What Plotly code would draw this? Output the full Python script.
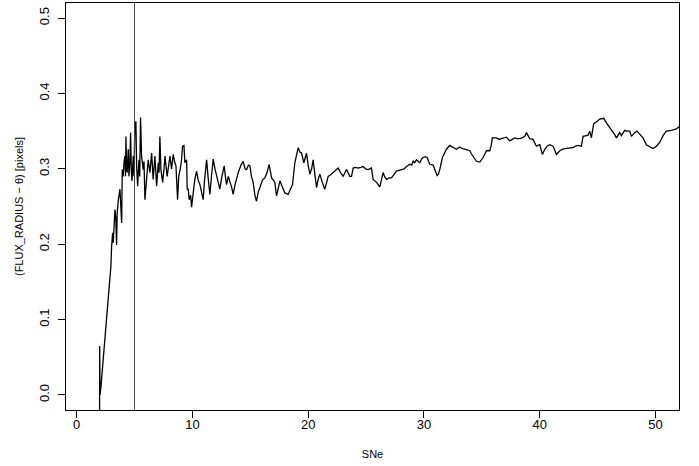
import plotly.graph_objects as go

# SNe (x) and FLUX_RADIUS - theta (y)
sne = [1.98, 1.99, 2.02, 2.1, 2.2, 2.3, 2.4, 2.5, 2.6, 2.73, 2.85, 2.96, 3.02, 3.11, 3.16, 3.31, 3.38, 3.45,
       3.5, 3.6, 3.74, 3.8, 3.89, 3.94, 4.02, 4.1, 4.17, 4.22, 4.26, 4.32, 4.37, 4.46, 4.52, 4.6, 4.66, 4.72,
       4.78, 4.89, 4.95, 5.03, 5.12, 5.18, 5.27, 5.38, 5.45, 5.52, 5.61, 5.75, 5.82, 5.9, 6.04, 6.1, 6.18,
       6.33, 6.4, 6.48, 6.61, 6.76, 6.91, 7.05, 7.12, 7.19, 7.28, 7.43, 7.55, 7.63, 7.82, 7.95, 8.06, 8.2,
       8.34, 8.45, 8.58, 8.72, 8.82, 8.94, 9.05, 9.15, 9.27, 9.35, 9.5, 9.55, 9.64, 9.72, 9.85, 9.93, 10.05,
       10.2, 10.36, 10.5, 10.65, 10.8, 10.93, 11.05, 11.23, 11.35, 11.51, 11.65, 11.8, 11.95, 12.09, 12.25,
       12.37, 12.55, 12.75, 12.85, 12.95, 13.1, 13.24, 13.4, 13.52, 13.7, 13.96, 14.2, 14.39, 14.55, 14.68,
       14.85, 14.97, 15.1, 15.25, 15.4, 15.54, 15.7, 15.83, 16.05, 16.26, 16.45, 16.63, 16.84, 17.0, 17.12,
       17.27, 17.4, 17.56, 17.8, 17.99, 18.27, 18.45, 18.65, 18.85, 19.0, 19.14, 19.3, 19.43, 19.63, 19.86,
       20.0, 20.15, 20.3, 20.43, 20.6, 20.73, 20.85, 21.01, 21.2, 21.44, 21.6, 21.73, 21.95, 22.16, 22.4,
       22.59, 22.8, 23.02, 23.32, 23.6, 23.75, 23.89, 24.1, 24.32, 24.55, 24.75, 24.95, 25.18, 25.47, 25.61,
       25.91, 26.05, 26.19, 26.48, 26.6, 26.77, 27.0, 27.2, 27.4, 27.63, 27.85, 28.07, 28.3, 28.5, 28.78,
       28.95, 29.07, 29.2, 29.36, 29.5, 29.65, 29.8, 29.93, 30.1, 30.28, 30.4, 30.51, 30.8, 31.03, 31.14,
       31.25, 31.37, 31.6, 31.8, 31.95, 32.24, 32.52, 32.81, 33.1, 33.3, 33.53, 33.75, 33.96, 34.1, 34.25,
       34.54, 34.83, 35.11, 35.41, 35.69, 35.8, 35.92, 36.27, 36.5, 36.7, 36.9, 37.13, 37.42, 37.6, 37.85,
       38.05, 38.28, 38.5, 38.71, 38.86, 39.14, 39.43, 39.6, 39.72, 40.01, 40.15, 40.24, 40.44, 40.65,
       40.87, 41.16, 41.3, 41.45, 41.74, 42.0, 42.31, 42.6, 42.88, 43.1, 43.32, 43.61, 43.75, 44.04, 44.2,
       44.33, 44.47, 44.67, 44.9, 45.19, 45.54, 45.77, 46.05, 46.34, 46.5, 46.63, 46.92, 47.06, 47.35,
       47.55, 47.78, 47.93, 48.21, 48.41, 48.64, 48.93, 49.22, 49.51, 49.79, 50.09, 50.37, 50.66, 50.95,
       51.38, 51.81, 51.99, 52.04]
flux_diff = [-0.06, 0.065, 0.0, 0.011, 0.03, 0.042, 0.07, 0.086, 0.11, 0.131, 0.155, 0.171, 0.197, 0.215,
             0.202, 0.246, 0.235, 0.199, 0.24, 0.259, 0.273, 0.25, 0.228, 0.299, 0.29, 0.31, 0.317, 0.29,
             0.343, 0.3, 0.295, 0.326, 0.29, 0.308, 0.348, 0.3, 0.284, 0.317, 0.29, 0.357, 0.363, 0.304,
             0.277, 0.312, 0.29, 0.368, 0.317, 0.299, 0.31, 0.259, 0.286, 0.3, 0.312, 0.295, 0.31, 0.321,
             0.286, 0.317, 0.277, 0.308, 0.295, 0.343, 0.299, 0.282, 0.3, 0.317, 0.29, 0.305, 0.317, 0.3,
             0.319, 0.31, 0.304, 0.259, 0.29, 0.299, 0.31, 0.33, 0.331, 0.308, 0.312, 0.273, 0.273, 0.259,
             0.265, 0.249, 0.27, 0.285, 0.297, 0.285, 0.279, 0.27, 0.259, 0.285, 0.312, 0.29, 0.266, 0.29,
             0.313, 0.3, 0.29, 0.28, 0.273, 0.29, 0.304, 0.29, 0.279, 0.29, 0.284, 0.275, 0.266, 0.28, 0.295,
             0.305, 0.31, 0.3, 0.299, 0.305, 0.304, 0.29, 0.282, 0.265, 0.257, 0.27, 0.275, 0.285, 0.288,
             0.295, 0.306, 0.288, 0.285, 0.282, 0.264, 0.275, 0.284, 0.275, 0.268, 0.266, 0.272, 0.279, 0.308,
             0.32, 0.328, 0.322, 0.321, 0.308, 0.321, 0.305, 0.293, 0.3, 0.312, 0.29, 0.275, 0.285, 0.293,
             0.283, 0.273, 0.282, 0.29, 0.292, 0.295, 0.298, 0.301, 0.295, 0.29, 0.299, 0.29, 0.29, 0.301,
             0.302, 0.301, 0.302, 0.303, 0.3, 0.299, 0.301, 0.286, 0.282, 0.278, 0.276, 0.295, 0.29, 0.286,
             0.288, 0.288, 0.293, 0.297, 0.298, 0.299, 0.3, 0.303, 0.306, 0.305, 0.31, 0.308, 0.312, 0.31,
             0.308, 0.313, 0.315, 0.316, 0.315, 0.31, 0.306, 0.305, 0.295, 0.291, 0.293, 0.299, 0.315, 0.322,
             0.326, 0.331, 0.328, 0.326, 0.329, 0.327, 0.326, 0.325, 0.324, 0.32, 0.317, 0.31, 0.309, 0.315,
             0.324, 0.324, 0.33, 0.341, 0.341, 0.339, 0.34, 0.341, 0.342, 0.337, 0.339, 0.341, 0.34, 0.34,
             0.341, 0.343, 0.348, 0.34, 0.339, 0.334, 0.33, 0.332, 0.325, 0.319, 0.326, 0.33, 0.332, 0.33,
             0.325, 0.319, 0.324, 0.326, 0.327, 0.327, 0.328, 0.33, 0.331, 0.33, 0.343, 0.344, 0.345, 0.35,
             0.341, 0.36, 0.362, 0.366, 0.367, 0.361, 0.355, 0.35, 0.345, 0.341, 0.348, 0.344, 0.351, 0.35,
             0.35, 0.343, 0.348, 0.35, 0.346, 0.341, 0.332, 0.33, 0.327, 0.33, 0.335, 0.344, 0.35, 0.351,
             0.353, 0.355, 0.356]

cut_sne = 5
x_ticks = [0, 10, 20, 30, 40, 50]
y_ticks = [0.0, 0.1, 0.2, 0.3, 0.4, 0.5]
y_tick_labels = ["0.0", "0.1", "0.2", "0.3", "0.4", "0.5"]

fig = go.Figure()
fig.add_trace(go.Scatter(x=sne, y=flux_diff, mode="lines",
                         line=dict(color="black", width=1.3), showlegend=False))
fig.add_shape(type="line", xref="x", yref="paper", x0=cut_sne, x1=cut_sne, y0=0, y1=1,
              line=dict(color="#444444", width=1))

font = "Liberation Sans, Arial, Helvetica, sans-serif"
fig.update_layout(
    width=699, height=466,
    margin=dict(l=66, r=20, t=3, b=56),
    plot_bgcolor="white", paper_bgcolor="white",
    font=dict(family=font, color="black"),
)
fig.update_xaxes(range=[-0.92, 52.04], showgrid=False, zeroline=False,
                 showline=True, linecolor="black", linewidth=1, mirror=True,
                 ticks="outside", ticklen=7, tickcolor="black",
                 tickvals=x_ticks, tickfont=dict(size=13), ticklabelstandoff=-5,
                 title=dict(text="SNe", font=dict(size=11), standoff=19))
fig.update_yaxes(range=[-0.02, 0.52], showgrid=False, zeroline=False,
                 showline=True, linecolor="black", linewidth=1, mirror=True,
                 ticks="outside", ticklen=7, tickcolor="black",
                 tickvals=y_ticks, ticktext=y_tick_labels, tickangle=-90,
                 tickfont=dict(size=13), ticklabelstandoff=4,
                 title=dict(text="(FLUX_RADIUS − θ) [pixels]", font=dict(size=11), standoff=10))

fig.write_html("out.html", config={"displayModeBar": False},
               post_script="document.body.style.margin='0';document.body.style.padding='0';")
